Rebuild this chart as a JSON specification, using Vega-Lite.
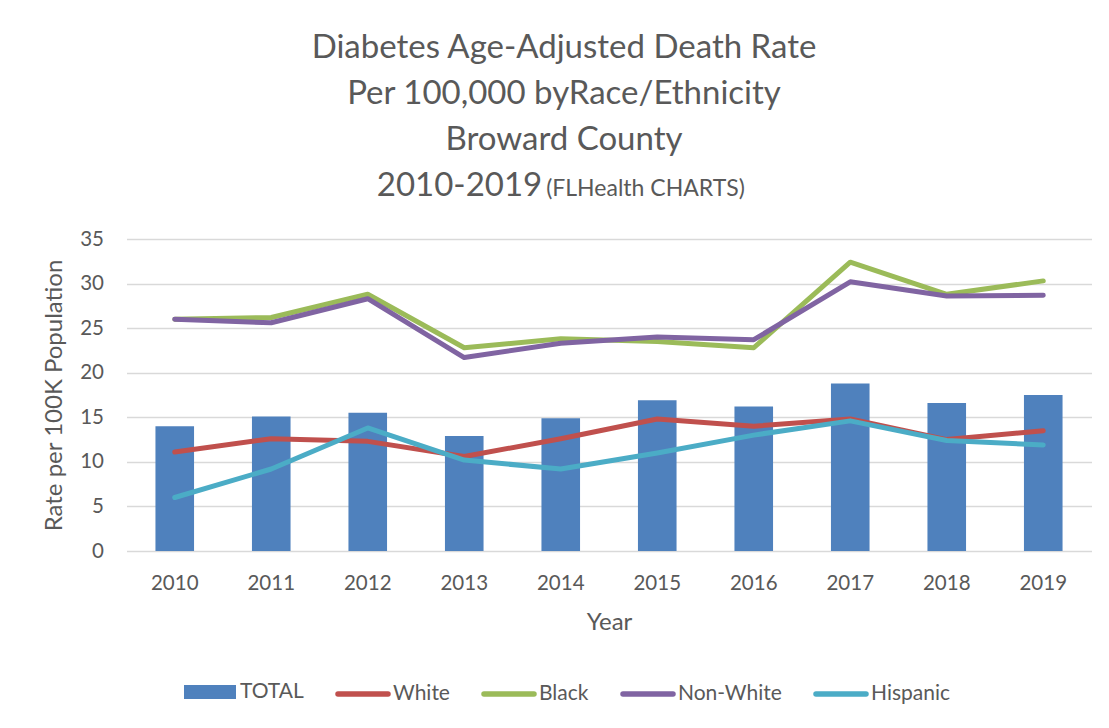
{
  "$schema": "https://vega.github.io/schema/vega-lite/v6.json",
  "width": 965,
  "height": 312,
  "autosize": {"type": "none"},
  "padding": {"left": 126.5, "top": 239, "right": 17.5, "bottom": 177},
  "background": "white",
  "title": {
    "text": ["Diabetes Age-Adjusted Death Rate", "Per 100,000 byRace/Ethnicity", "Broward County", "2010-2019\u2003\u2003\u2003\u2003\u2003\u2003\u2003\u2003\u2004\u200b"],
    "subtitle": "\u200b\u2003\u2003\u2003\u2003\u2003\u2003\u2003\u2003\u2003\u2004(FLHealth CHARTS)",
    "anchor": "middle",
    "dx": -45,
    "offset": 26,
    "font": "Lato",
    "fontSize": 33,
    "fontWeight": "normal",
    "color": "#595959",
    "lineHeight": 46,
    "subtitleFont": "Lato",
    "subtitleFontSize": 23,
    "subtitleColor": "#595959",
    "subtitlePadding": -25
  },
  "datasets": {
    "rates": [
      {"Year": "2010", "Series": "TOTAL", "Rate": 14.0},
      {"Year": "2011", "Series": "TOTAL", "Rate": 15.1},
      {"Year": "2012", "Series": "TOTAL", "Rate": 15.5},
      {"Year": "2013", "Series": "TOTAL", "Rate": 12.9},
      {"Year": "2014", "Series": "TOTAL", "Rate": 14.9},
      {"Year": "2015", "Series": "TOTAL", "Rate": 16.9},
      {"Year": "2016", "Series": "TOTAL", "Rate": 16.2},
      {"Year": "2017", "Series": "TOTAL", "Rate": 18.8},
      {"Year": "2018", "Series": "TOTAL", "Rate": 16.6},
      {"Year": "2019", "Series": "TOTAL", "Rate": 17.5},
      {"Year": "2010", "Series": "White", "Rate": 11.1},
      {"Year": "2011", "Series": "White", "Rate": 12.6},
      {"Year": "2012", "Series": "White", "Rate": 12.3},
      {"Year": "2013", "Series": "White", "Rate": 10.6},
      {"Year": "2014", "Series": "White", "Rate": 12.6},
      {"Year": "2015", "Series": "White", "Rate": 14.8},
      {"Year": "2016", "Series": "White", "Rate": 14.0},
      {"Year": "2017", "Series": "White", "Rate": 14.8},
      {"Year": "2018", "Series": "White", "Rate": 12.5},
      {"Year": "2019", "Series": "White", "Rate": 13.5},
      {"Year": "2010", "Series": "Black", "Rate": 26.0},
      {"Year": "2011", "Series": "Black", "Rate": 26.2},
      {"Year": "2012", "Series": "Black", "Rate": 28.8},
      {"Year": "2013", "Series": "Black", "Rate": 22.8},
      {"Year": "2014", "Series": "Black", "Rate": 23.8},
      {"Year": "2015", "Series": "Black", "Rate": 23.5},
      {"Year": "2016", "Series": "Black", "Rate": 22.8},
      {"Year": "2017", "Series": "Black", "Rate": 32.4},
      {"Year": "2018", "Series": "Black", "Rate": 28.8},
      {"Year": "2019", "Series": "Black", "Rate": 30.3},
      {"Year": "2010", "Series": "Non-White", "Rate": 26.0},
      {"Year": "2011", "Series": "Non-White", "Rate": 25.6},
      {"Year": "2012", "Series": "Non-White", "Rate": 28.3},
      {"Year": "2013", "Series": "Non-White", "Rate": 21.7},
      {"Year": "2014", "Series": "Non-White", "Rate": 23.3},
      {"Year": "2015", "Series": "Non-White", "Rate": 24.0},
      {"Year": "2016", "Series": "Non-White", "Rate": 23.7},
      {"Year": "2017", "Series": "Non-White", "Rate": 30.2},
      {"Year": "2018", "Series": "Non-White", "Rate": 28.6},
      {"Year": "2019", "Series": "Non-White", "Rate": 28.7},
      {"Year": "2010", "Series": "Hispanic", "Rate": 6.0},
      {"Year": "2011", "Series": "Hispanic", "Rate": 9.2},
      {"Year": "2012", "Series": "Hispanic", "Rate": 13.8},
      {"Year": "2013", "Series": "Hispanic", "Rate": 10.2},
      {"Year": "2014", "Series": "Hispanic", "Rate": 9.2},
      {"Year": "2015", "Series": "Hispanic", "Rate": 11.0},
      {"Year": "2016", "Series": "Hispanic", "Rate": 13.0},
      {"Year": "2017", "Series": "Hispanic", "Rate": 14.6},
      {"Year": "2018", "Series": "Hispanic", "Rate": 12.4},
      {"Year": "2019", "Series": "Hispanic", "Rate": 11.9}
    ]
  },
  "data": {"name": "rates"},
  "encoding": {
    "x": {
      "field": "Year",
      "type": "ordinal",
      "scale": {"paddingInner": 0.6, "paddingOuter": 0.3},
      "axis": {
        "title": "Year",
        "labelAngle": 0,
        "labelPadding": 22,
        "titlePadding": 17,
        "domain": false,
        "ticks": false,
        "grid": false
      }
    },
    "y": {
      "field": "Rate",
      "type": "quantitative",
      "scale": {"domain": [0, 35], "nice": false},
      "axis": {
        "title": "Rate per 100K Population",
        "values": [0, 5, 10, 15, 20, 25, 30, 35],
        "labelPadding": 23,
        "titlePadding": 13,
        "domain": false,
        "ticks": false,
        "grid": true
      }
    },
    "color": {
      "field": "Series",
      "type": "nominal",
      "scale": {
        "domain": ["TOTAL", "White", "Black", "Non-White", "Hispanic"],
        "range": ["#4F81BD", "#C0504D", "#9BBB59", "#8064A2", "#4BACC6"]
      },
      "legend": {
        "title": null,
        "orient": "none",
        "legendX": 55.5,
        "legendY": 424.5,
        "direction": "horizontal",
        "columns": 5,
        "symbolSize": 2500,
        "symbolStrokeWidth": 5.5,
        "labelOffset": 2,
        "columnPadding": 23,
        "encode": {
          "symbols": {
            "update": {
              "shape": {"signal": "datum.value === 'TOTAL' ? 'M-0.93,-0.17H0.93V0.17H-0.93Z' : 'stroke'"},
              "strokeWidth": {"value": 5.5},
              "strokeCap": {"value": "round"},
              "opacity": {"value": 1}
            }
          }
        }
      }
    }
  },
  "layer": [
    {
      "transform": [{"filter": "datum.Series === 'TOTAL'"}],
      "mark": {"type": "bar", "opacity": 1}
    },
    {
      "transform": [{"filter": "datum.Series !== 'TOTAL'"}],
      "mark": {"type": "line", "strokeWidth": 5, "strokeCap": "round", "strokeJoin": "round"}
    }
  ],
  "config": {
    "view": {"stroke": null},
    "font": "Lato",
    "axis": {
      "labelFont": "Lato",
      "labelFontSize": 20.5,
      "labelColor": "#595959",
      "titleFont": "Lato",
      "titleFontSize": 24,
      "titleFontWeight": "normal",
      "titleColor": "#595959",
      "gridColor": "#D9D9D9",
      "gridWidth": 1.5,
      "gridOpacity": 1
    },
    "legend": {
      "labelFont": "Lato",
      "labelFontSize": 21,
      "labelColor": "#595959",
      "labelLimit": 300
    }
  }
}
